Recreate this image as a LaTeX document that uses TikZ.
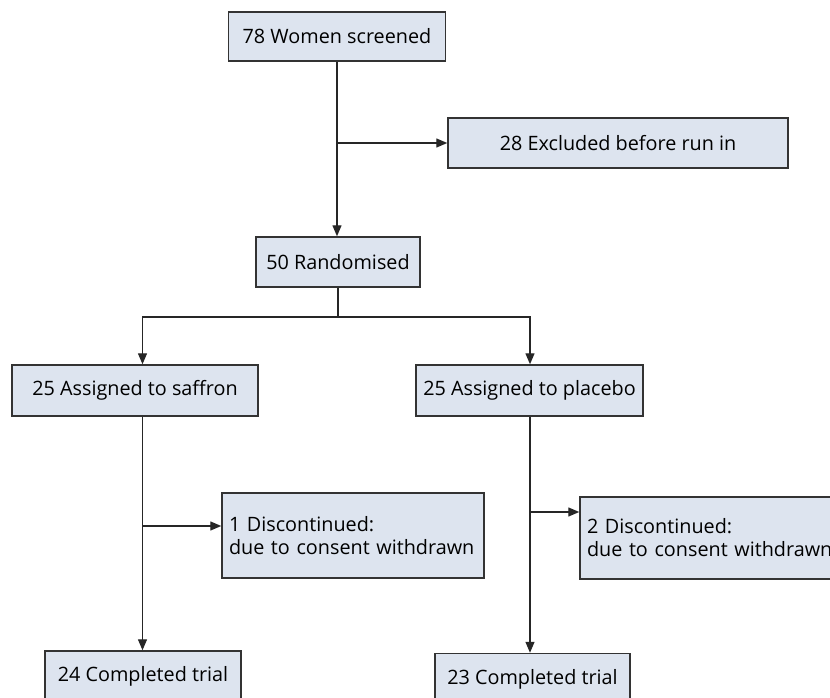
\documentclass[tikz,border=0pt]{standalone}
\usepackage{fontspec}
\setmainfont{Open Sans}
\usetikzlibrary{arrows.meta}
\definecolor{boxfill}{HTML}{DDE4EF}
\definecolor{boxline}{HTML}{333333}
\tikzset{
  box/.style={draw=boxline, fill=boxfill, line width=1.5pt, inner sep=0pt,
    font=\fontsize{19.8}{23}\selectfont},
  notebox/.style={box, align=left, text width=248pt, inner xsep=7pt},
  ln/.style={line width=1.4pt, draw=black!85},
  arr/.style={ln, -{Triangle[length=11pt,width=9pt]}}
}

\begin{document}
\begin{tikzpicture}[x=1pt, y=-1pt]
    \useasboundingbox (0,0) rectangle (830,698);
    \fill[white] (0,0) rectangle (830,698);

    % boxes
    \node[box, minimum width=217pt, minimum height=49pt] (screened) at (337,36.5) {78 Women screened};
    \node[box, minimum width=340pt, minimum height=50pt] (excluded) at (618,143) {28 Excluded before run in};
    \node[box, minimum width=164pt, minimum height=50pt] (randomised) at (338,262) {50 Randomised};
    \node[box, minimum width=246pt, minimum height=51pt] (saffron) at (135,390.5) {25 Assigned to saffron};
    \node[box, minimum width=227pt, minimum height=51pt] (placebo) at (529.5,390.5) {25 Assigned to placebo};
    \node[notebox, minimum height=85pt] (discA) at (353,535.5) {1 Discontinued:\\due to consent withdrawn};
    \node[notebox, minimum height=82pt] (discB) at (711,538) {2 Discontinued:\\due to consent withdrawn};
    \node[box, minimum width=196pt, minimum height=51pt] (completedA) at (143,676.5) {24 Completed trial};
    \node[box, minimum width=195pt, minimum height=51pt] (completedB) at (532.5,679) {23 Completed trial};

    % branch points
    \coordinate (split) at (338,317);
    \coordinate (lcol) at (142.5,317);
    \coordinate (rcol) at (530,317);
    \coordinate (outA) at (142.5,526);
    \coordinate (outB) at (530,512);

    % connectors
    \draw[arr] (screened.south) -- (screened.south |- randomised.north);
    \draw[arr] (screened.south |- excluded.west) -- (excluded.west);
    \draw[ln] (randomised.south) -- (split);
    \draw[arr] (split) -- (lcol) -- (lcol |- saffron.north);
    \draw[arr] (split) -- (rcol) -- (rcol |- placebo.north);
    \draw[arr] (lcol |- saffron.south) -- (lcol |- completedA.north);
    \draw[arr] (rcol |- placebo.south) -- (rcol |- completedB.north);
    \draw[arr] (outA) -- (outA -| discA.west);
    \draw[arr] (outB) -- (outB -| discB.west);
\end{tikzpicture}
\end{document}
